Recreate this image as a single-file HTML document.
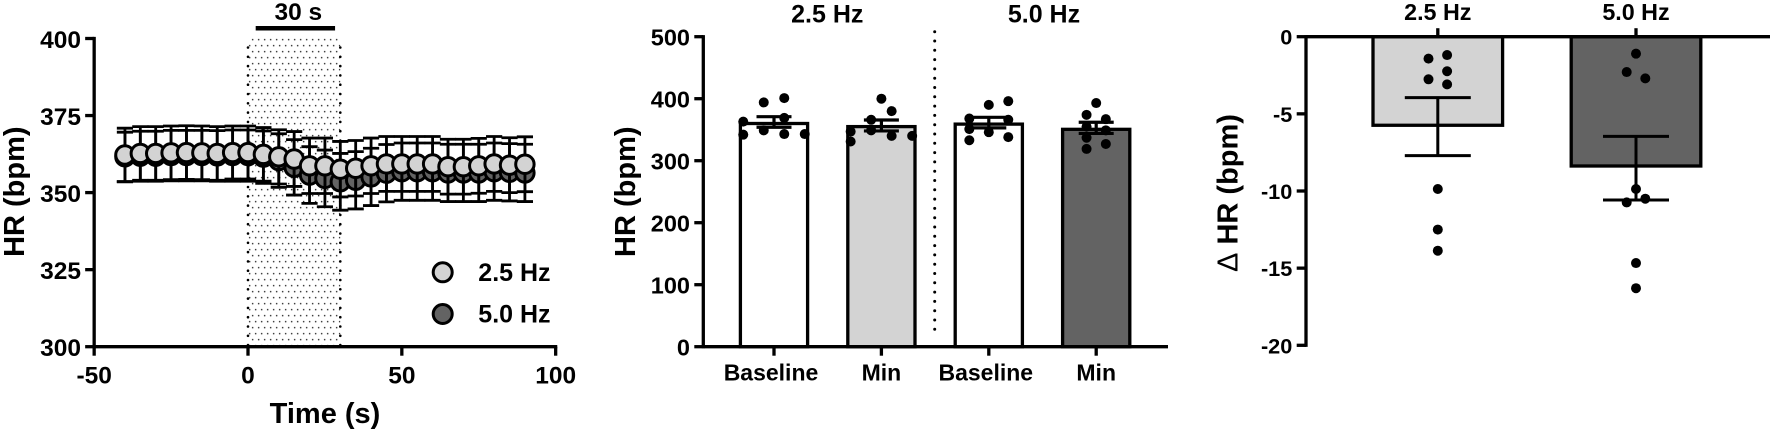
<!DOCTYPE html>
<html lang="en">
<head>
<meta charset="utf-8">
<title>Heart rate response charts</title>
<style>
html,body{margin:0;padding:0;background:#fff;}
svg{display:block;}
text{font-family:"Liberation Sans",Arial,sans-serif;font-weight:bold;fill:#000;}
</style>
</head>
<body>
<svg id="fig" width="1772" height="432" viewBox="0 0 1772 432" xmlns="http://www.w3.org/2000/svg">
  <defs>
    <pattern id="dots" width="6" height="12" patternUnits="userSpaceOnUse" x="248.7" y="44.7">
      <circle cx="1" cy="1" r="0.72" fill="#000"/>
      <circle cx="4" cy="7" r="0.72" fill="#000"/>
    </pattern>
  </defs>
  <g id="panelA"></g>
  <g id="panelB"></g>
  <g id="panelC"></g>

  <text x="24" y="0" font-size="29" text-anchor="middle" transform="translate(0,191.7) rotate(-90 24 0)">HR (bpm)</text>
  <text x="325" y="423" font-size="29" text-anchor="middle">Time (s)</text>
  <text x="298.3" y="20" font-size="24.5" text-anchor="middle">30 s</text>
  <text x="478.3" y="281" font-size="25">2.5 Hz</text>
  <text x="478.3" y="322.7" font-size="25">5.0 Hz</text>

  <text x="635" y="0" font-size="29" text-anchor="middle" transform="translate(0,191.7) rotate(-90 635 0)">HR (bpm)</text>
  <text x="827.3" y="22.3" font-size="25" text-anchor="middle">2.5 Hz</text>
  <text x="1044" y="22.3" font-size="25" text-anchor="middle">5.0 Hz</text>

  <text x="1237.7" y="0" font-size="29" text-anchor="middle" transform="translate(0,193) rotate(-90 1237.7 0)"><tspan style="font-weight:normal">Δ</tspan> HR (bpm)</text>
</svg>

<script>
// ---------- Panel A: time course ----------
const timeSeconds = [-40,-35,-30,-25,-20,-15,-10,-5,0,5,10,15,20,25,30,35,40,45,50,55,60,65,70,75,80,85,90];
const hr25Mean = [362.2,362.7,362.7,362.9,363,362.9,362.7,363,363,362.4,361.6,360.9,358.7,358.7,357.6,357.9,358.7,359.3,359.3,359.3,359.3,358.4,358.4,358.7,359.3,358.9,359.2];
const hr25Sem = [8.7,8.7,8.7,8.7,8.7,8.7,8.7,8.6,8.6,8.7,8.8,8.9,9,9,9,9,9,8.9,8.9,8.9,8.9,8.9,8.9,8.9,8.9,8.9,8.9];
const hr50Mean = [361.6,361.8,361.8,362,362,362,361.9,362,362,361.5,360.4,358.2,355.7,354.6,353.5,354,355.1,356.3,356.8,356.8,356.8,356.4,356.4,356.4,356.8,356.6,356.4];
const hr50Sem = [8,8.1,8.1,8.2,8.2,8.2,8.2,8.3,8.3,8.5,8.7,9,9.2,9.2,9.2,9.3,9.3,9.3,9.3,9.3,9.3,9.3,9.3,9.3,9.3,9.3,9.3];
const panelAXTicks = [-50,0,50,100];
const panelAYTicks = [300,325,350,375,400];
const legendSeries = ['2.5 Hz','5.0 Hz'];

// ---------- Panel B: HR bars ----------
const barCategories = ['Baseline','Min','Baseline','Min'];
const barMeans = [360,355,359,350.6];
const barUpper = [371,365.6,370,362];
const barLower = [354,348,353,344];
const barDots0 = [363,342,394,349,401,369,343,343];
const barCols0 = [-1.5,-1.5,-0.5,-0.5,0.5,0.5,0.5,1.5];
const barDots1 = [347,331,366,349,400,380,340,340];
const barCols1 = [-1.5,-1.5,-0.5,-0.5,0,0.5,0.5,1.5];
const barDots2 = [368,351,333,390,346,396,366,338];
const barCols2 = [-0.95,-0.95,-0.95,0,0,0.95,0.95,0.95];
const barDots3 = [393,374,367,355,349,337,319,327];
const barCols3 = [0,-0.47,0.47,-0.47,0.47,-0.47,-0.47,0.47];
const panelBYTicks = [0,100,200,300,400,500];

// ---------- Panel C: delta HR bars ----------
const deltaCategories = ['2.5 Hz','5.0 Hz'];
const deltaMeans = [-5.74,-8.38];
const deltaUpper = [-3.95,-6.46];
const deltaLower = [-7.71,-10.58];
const deltaDots0 = [-1.42,-1.19,-2.24,-2.76,-3.09,-9.87,-12.5,-13.87];
const deltaCols0 = [-0.5,0.5,0.5,-0.5,0.5,0,0,0];
const deltaDots1 = [-1.1,-2.29,-2.7,-9.87,-10.74,-10.5,-14.67,-16.3];
const deltaCols1 = [0,-0.5,0.5,0,-0.5,0.5,0,0];
const panelCYTicks = [0,-5,-10,-15,-20];

// ---------- scales ----------
const xA = v => 248 + (v - 0) * 3.0767;
const yA = v => 346.7 - (v - 300) * 3.082;
const bandB = i => 774 + i * 107.4;
const yB = v => 346.7 - v * 0.62;
const bandC = i => 1437.8 + i * 198.2;
const yC = v => 36.7 - v * 15.43;

const NS = 'http://www.w3.org/2000/svg';
function mk(parent, tag, attrs) {
  const e = document.createElementNS(NS, tag);
  for (const k in attrs) e.setAttribute(k, attrs[k]);
  parent.appendChild(e);
  return e;
}
function ln(parent, x1, y1, x2, y2, w) {
  return mk(parent, 'line', {x1, y1, x2, y2, stroke: '#000', 'stroke-width': w});
}
const panelA = document.getElementById('panelA');
const panelB = document.getElementById('panelB');
const panelC = document.getElementById('panelC');

// ---------- Panel A drawing ----------
const shade = mk(panelA, 'rect', {x: xA(0), y: yA(400), width: xA(30) - xA(0), height: yA(300) - yA(400), fill: 'url(#dots)'});


[0, 30].forEach(t => {
  const edge = mk(panelA, 'line', {x1: xA(t), y1: yA(400) + 9, x2: xA(t), y2: yA(300), stroke: '#000', 'stroke-width': 2.6, 'stroke-linecap': 'round', 'stroke-dasharray': '0 9.3'});
  
  
});
const stimBar = ln(panelA, xA(2.5), 28.3, xA(28.3), 28.3, 4.5);



const capHalf = 7.7;
timeSeconds.forEach((t, i) => {
  const c = mk(panelA, 'circle', {cx: xA(t), cy: yA(hr50Mean[i]), r: 9.2, fill: '#636363', stroke: '#000', 'stroke-width': 3});
  
  
});
function errorBarsA(mean, sem, name) {
  timeSeconds.forEach((t, i) => {
    const g = mk(panelA, 'g', {});
    
    
    const x = xA(t), hi = yA(mean[i] + sem[i]), lo = yA(mean[i] - sem[i]);
    ln(g, x, hi, x, lo, 2.8);
    ln(g, x - capHalf - 0.4, hi, x + capHalf + 0.4, hi, 2.8);
    ln(g, x - capHalf - 0.4, lo, x + capHalf + 0.4, lo, 2.8);
  });
}
errorBarsA(hr50Mean, hr50Sem, 'error-bar-5-0-hz');
errorBarsA(hr25Mean, hr25Sem, 'error-bar-2-5-hz');
timeSeconds.forEach((t, i) => {
  const c = mk(panelA, 'circle', {cx: xA(t), cy: yA(hr25Mean[i]), r: 9.2, fill: '#d3d3d3', stroke: '#000', 'stroke-width': 3});
  
  
});

const axisAY = ln(panelA, xA(-50), yA(400) - 1.6, xA(-50), yA(300) + 1.6, 3.3);


const axisAX = ln(panelA, xA(-50), yA(300), xA(100) + 1.6, yA(300), 3.3);


panelAYTicks.forEach(v => {
  const tick = ln(panelA, xA(-50) - 9, yA(v), xA(-50), yA(v), 3.3);
  
  
  const label = mk(panelA, 'text', {x: 81, y: yA(v) + 9.3, 'font-size': 24.5, 'text-anchor': 'end'});
  label.textContent = v;
  
  
});
panelAXTicks.forEach(v => {
  const tick = ln(panelA, xA(v), yA(300), xA(v), yA(300) + 9, 3.3);
  
  
  const label = mk(panelA, 'text', {x: xA(v), y: 383.5, 'font-size': 24.5, 'text-anchor': 'middle'});
  label.textContent = v;
  
  
});
legendSeries.forEach((s, i) => {
  const m = mk(panelA, 'circle', {cx: 442.7, cy: 272.3 + i * 41.7, r: 9.5, fill: i === 0 ? '#d3d3d3' : '#636363', stroke: '#000', 'stroke-width': 3});
  
  
});

// ---------- Panel B drawing ----------
const barFills = ['#ffffff', '#d3d3d3', '#ffffff', '#636363'];
const barDots = [barDots0, barDots1, barDots2, barDots3];
const barCols = [barCols0, barCols1, barCols2, barCols3];
barCategories.forEach((cat, i) => {
  const cx = bandB(i), hw = 33.6;
  const bar = mk(panelB, 'rect', {x: cx - hw, y: yB(barMeans[i]), width: hw * 2, height: yB(0) - yB(barMeans[i]), fill: barFills[i], stroke: '#000', 'stroke-width': 3.3});
  
  
  barDots[i].forEach((v, j) => {
    const d = mk(panelB, 'circle', {cx: cx + barCols[i][j] * 20.5, cy: yB(v), r: 5, fill: '#000'});
    
    
  });
  const eb = mk(panelB, 'g', {});
  
  
  ln(eb, cx, yB(barUpper[i]), cx, yB(barLower[i]), 3.2);
  ln(eb, cx - 17.5, yB(barUpper[i]), cx + 17.5, yB(barUpper[i]), 3.2);
  ln(eb, cx - 17.5, yB(barLower[i]), cx + 17.5, yB(barLower[i]), 3.2);
  const tick = ln(panelB, cx, yB(0), cx, yB(0) + 9, 3.3);
  
  
  const label = mk(panelB, 'text', {x: cx - (cat === 'Baseline' ? 3 : 0), y: 380.3, 'font-size': 23, 'text-anchor': 'middle'});
  label.textContent = cat;
  
  
});
const axisBY = ln(panelB, 703.3, yB(500) - 1.6, 703.3, yB(0) + 1.6, 3.3);


const axisBX = ln(panelB, 703.3, yB(0), 1168, yB(0), 3.3);


panelBYTicks.forEach(v => {
  const tick = ln(panelB, 694.3, yB(v), 703.3, yB(v), 3.3);
  
  
  const label = mk(panelB, 'text', {x: 690, y: yB(v) + 9, 'font-size': 23.5, 'text-anchor': 'end'});
  label.textContent = v;
  
  
});
const divider = mk(panelB, 'line', {x1: 934.7, y1: 31.7, x2: 934.7, y2: 338, stroke: '#000', 'stroke-width': 3, 'stroke-linecap': 'round', 'stroke-dasharray': '0 9.3'});



// ---------- Panel C drawing ----------
const deltaFills = ['#d3d3d3', '#636363'];
const deltaDots = [deltaDots0, deltaDots1];
const deltaCols = [deltaCols0, deltaCols1];
deltaCategories.forEach((cat, i) => {
  const cx = bandC(i), hw = 64.8;
  const bar = mk(panelC, 'rect', {x: cx - hw, y: yC(0), width: hw * 2, height: yC(deltaMeans[i]) - yC(0), fill: deltaFills[i], stroke: '#000', 'stroke-width': 3.3});
  
  
  const eb = mk(panelC, 'g', {});
  
  
  ln(eb, cx, yC(deltaUpper[i]), cx, yC(deltaLower[i]), 3);
  ln(eb, cx - 33, yC(deltaUpper[i]), cx + 33, yC(deltaUpper[i]), 3);
  ln(eb, cx - 33, yC(deltaLower[i]), cx + 33, yC(deltaLower[i]), 3);
  deltaDots[i].forEach((v, j) => {
    const d = mk(panelC, 'circle', {cx: cx + deltaCols[i][j] * 18.6, cy: yC(v), r: 5, fill: '#000'});
    
    
  });
  const tick = ln(panelC, cx, yC(0), cx, yC(0) - 8.5, 3.3);
  
  
  const label = mk(panelC, 'text', {x: cx, y: 20, 'font-size': 23.3, 'text-anchor': 'middle'});
  label.textContent = cat;
  
  
});
const axisCY = ln(panelC, 1306, yC(0) - 1.6, 1306, yC(-20) + 1.6, 3.3);


const axisCX = ln(panelC, 1306, yC(0), 1770, yC(0), 3.3);


panelCYTicks.forEach(v => {
  const tick = ln(panelC, 1296.7, yC(v), 1306, yC(v), 3.3);
  
  
  const label = mk(panelC, 'text', {x: 1292.3, y: yC(v) + 8, 'font-size': 21.7, 'text-anchor': 'end'});
  label.textContent = v;
  
  
});
</script>
</body>
</html>
